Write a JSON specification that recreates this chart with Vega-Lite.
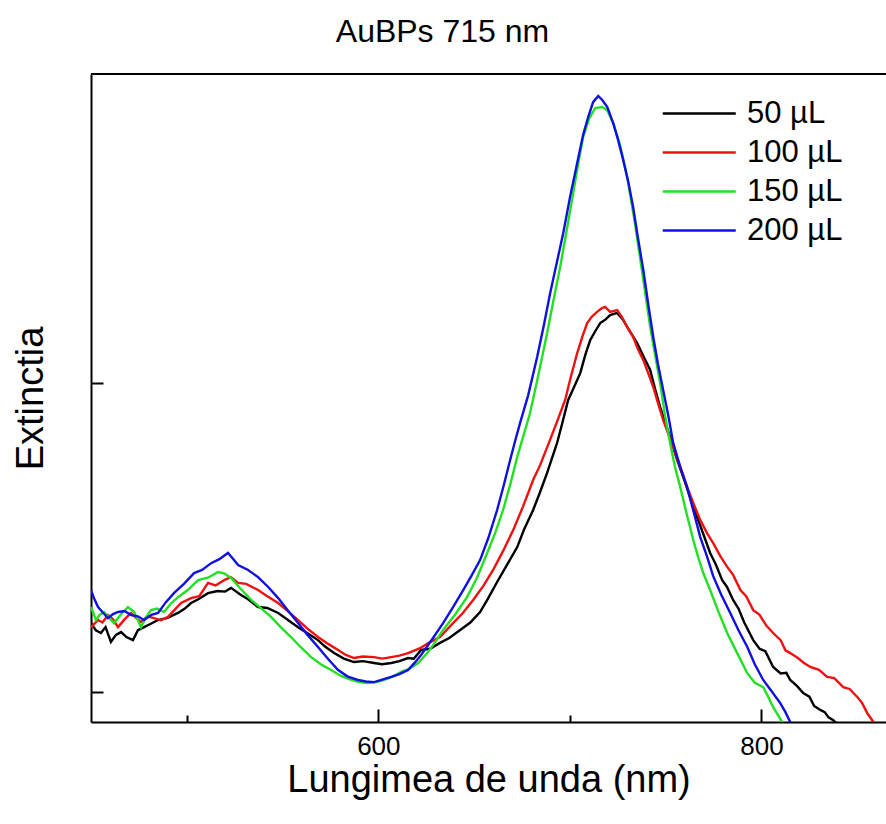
{
 "$schema": "https://vega.github.io/schema/vega-lite/v6.json",
 "width": 795,
 "height": 648,
 "autosize": {"type": "none"},
 "padding": {"left": 91, "top": 74, "right": 0, "bottom": 102},
 "background": "white",
 "title": {"text": "AuBPs 715 nm", "font": "Liberation Sans", "fontSize": 32, "fontWeight": "normal", "color": "black", "anchor": "middle", "dx": -46, "dy": 30, "offset": 29, "baseline": "alphabetic"},
 "config": {
  "view": {"stroke": null},
  "axis": {"domainColor": "black", "domainWidth": 2, "tickColor": "black", "tickWidth": 2, "labelFont": "Liberation Sans", "labelFontSize": 26, "labelColor": "black", "titleFont": "Liberation Sans", "titleFontSize": 38, "titleFontWeight": "normal", "titleColor": "black", "grid": false}
 },
 "data": {"values": [
  {"vol":"50 µL","wl":450,"ext":1.223},{"vol":"50 µL","wl":452.5,"ext":1.2},{"vol":"50 µL","wl":455.2,"ext":1.191},{"vol":"50 µL","wl":457.6,"ext":1.21},{"vol":"50 µL","wl":460.4,"ext":1.162},{"vol":"50 µL","wl":463,"ext":1.185},{"vol":"50 µL","wl":465.7,"ext":1.194},{"vol":"50 µL","wl":468.5,"ext":1.178},{"vol":"50 µL","wl":471.9,"ext":1.168},{"vol":"50 µL","wl":474.5,"ext":1.2},{"vol":"50 µL","wl":477.7,"ext":1.21},{"vol":"50 µL","wl":481,"ext":1.22},{"vol":"50 µL","wl":485,"ext":1.233},{"vol":"50 µL","wl":490,"ext":1.24},{"vol":"50 µL","wl":495.4,"ext":1.256},{"vol":"50 µL","wl":499,"ext":1.27},{"vol":"50 µL","wl":502.2,"ext":1.288},{"vol":"50 µL","wl":506,"ext":1.3},{"vol":"50 µL","wl":511.1,"ext":1.32},{"vol":"50 µL","wl":516,"ext":1.327},{"vol":"50 µL","wl":520,"ext":1.325},{"vol":"50 µL","wl":523.1,"ext":1.337},{"vol":"50 µL","wl":528.3,"ext":1.314},{"vol":"50 µL","wl":532,"ext":1.3},{"vol":"50 µL","wl":537.2,"ext":1.275},{"vol":"50 µL","wl":542,"ext":1.272},{"vol":"50 µL","wl":547.7,"ext":1.256},{"vol":"50 µL","wl":553,"ext":1.232},{"vol":"50 µL","wl":558.1,"ext":1.21},{"vol":"50 µL","wl":563,"ext":1.19},{"vol":"50 µL","wl":568.5,"ext":1.168},{"vol":"50 µL","wl":572,"ext":1.148},{"vol":"50 µL","wl":576.9,"ext":1.126},{"vol":"50 µL","wl":582,"ext":1.108},{"vol":"50 µL","wl":587.3,"ext":1.097},{"vol":"50 µL","wl":592,"ext":1.1},{"vol":"50 µL","wl":597.8,"ext":1.094},{"vol":"50 µL","wl":602,"ext":1.09},{"vol":"50 µL","wl":606.7,"ext":1.094},{"vol":"50 µL","wl":611,"ext":1.1},{"vol":"50 µL","wl":615.5,"ext":1.11},{"vol":"50 µL","wl":618.5,"ext":1.108},{"vol":"50 µL","wl":622.3,"ext":1.136},{"vol":"50 µL","wl":627,"ext":1.14},{"vol":"50 µL","wl":632.2,"ext":1.159},{"vol":"50 µL","wl":637,"ext":1.175},{"vol":"50 µL","wl":642.7,"ext":1.201},{"vol":"50 µL","wl":648,"ext":1.225},{"vol":"50 µL","wl":653.1,"ext":1.259},{"vol":"50 µL","wl":657,"ext":1.3},{"vol":"50 µL","wl":662,"ext":1.356},{"vol":"50 µL","wl":667,"ext":1.41},{"vol":"50 µL","wl":672.5,"ext":1.469},{"vol":"50 µL","wl":676,"ext":1.525},{"vol":"50 µL","wl":680.8,"ext":1.589},{"vol":"50 µL","wl":684,"ext":1.64},{"vol":"50 µL","wl":688.1,"ext":1.709},{"vol":"50 µL","wl":693.3,"ext":1.806},{"vol":"50 µL","wl":696,"ext":1.87},{"vol":"50 µL","wl":699.1,"ext":1.945},{"vol":"50 µL","wl":702,"ext":1.985},{"vol":"50 µL","wl":705.4,"ext":2.032},{"vol":"50 µL","wl":708,"ext":2.09},{"vol":"50 µL","wl":710.6,"ext":2.139},{"vol":"50 µL","wl":713,"ext":2.165},{"vol":"50 µL","wl":715.8,"ext":2.194},{"vol":"50 µL","wl":718.5,"ext":2.205},{"vol":"50 µL","wl":721,"ext":2.22},{"vol":"50 µL","wl":724.7,"ext":2.227},{"vol":"50 µL","wl":727.8,"ext":2.204},{"vol":"50 µL","wl":731,"ext":2.17},{"vol":"50 µL","wl":735.1,"ext":2.129},{"vol":"50 µL","wl":738.5,"ext":2.085},{"vol":"50 µL","wl":741.9,"ext":2.042},{"vol":"50 µL","wl":744.5,"ext":1.98},{"vol":"50 µL","wl":747.1,"ext":1.922},{"vol":"50 µL","wl":752.3,"ext":1.825},{"vol":"50 µL","wl":755.5,"ext":1.76},{"vol":"50 µL","wl":759.1,"ext":1.696},{"vol":"50 µL","wl":763,"ext":1.625},{"vol":"50 µL","wl":766.4,"ext":1.566},{"vol":"50 µL","wl":770,"ext":1.505},{"vol":"50 µL","wl":773.2,"ext":1.45},{"vol":"50 µL","wl":776,"ext":1.415},{"vol":"50 µL","wl":779.5,"ext":1.362},{"vol":"50 µL","wl":782,"ext":1.34},{"vol":"50 µL","wl":785.2,"ext":1.298},{"vol":"50 µL","wl":788,"ext":1.27},{"vol":"50 µL","wl":791,"ext":1.225},{"vol":"50 µL","wl":795.7,"ext":1.168},{"vol":"50 µL","wl":799,"ext":1.14},{"vol":"50 µL","wl":802,"ext":1.132},{"vol":"50 µL","wl":806.1,"ext":1.081},{"vol":"50 µL","wl":810,"ext":1.06},{"vol":"50 µL","wl":813,"ext":1.062},{"vol":"50 µL","wl":815,"ext":1.039},{"vol":"50 µL","wl":818.5,"ext":1.02},{"vol":"50 µL","wl":821.8,"ext":0.997},{"vol":"50 µL","wl":825,"ext":0.985},{"vol":"50 µL","wl":827.5,"ext":0.955},{"vol":"50 µL","wl":830.7,"ext":0.942},{"vol":"50 µL","wl":833,"ext":0.935},{"vol":"50 µL","wl":835,"ext":0.918},{"vol":"50 µL","wl":837.5,"ext":0.909},{"vol":"50 µL","wl":840.5,"ext":0.89},
  {"vol":"100 µL","wl":450,"ext":1.21},{"vol":"100 µL","wl":453.7,"ext":1.233},{"vol":"100 µL","wl":456,"ext":1.225},{"vol":"100 µL","wl":458.9,"ext":1.249},{"vol":"100 µL","wl":461.5,"ext":1.235},{"vol":"100 µL","wl":464.1,"ext":1.21},{"vol":"100 µL","wl":467.5,"ext":1.235},{"vol":"100 µL","wl":470.9,"ext":1.256},{"vol":"100 µL","wl":473.5,"ext":1.24},{"vol":"100 µL","wl":476.1,"ext":1.227},{"vol":"100 µL","wl":479.5,"ext":1.245},{"vol":"100 µL","wl":482.9,"ext":1.239},{"vol":"100 µL","wl":486.5,"ext":1.232},{"vol":"100 µL","wl":490.2,"ext":1.243},{"vol":"100 µL","wl":493.5,"ext":1.265},{"vol":"100 µL","wl":497,"ext":1.288},{"vol":"100 µL","wl":502.2,"ext":1.304},{"vol":"100 µL","wl":506.5,"ext":1.31},{"vol":"100 µL","wl":511.1,"ext":1.353},{"vol":"100 µL","wl":515,"ext":1.345},{"vol":"100 µL","wl":519.5,"ext":1.362},{"vol":"100 µL","wl":523,"ext":1.372},{"vol":"100 µL","wl":526.8,"ext":1.353},{"vol":"100 µL","wl":531,"ext":1.35},{"vol":"100 µL","wl":537.2,"ext":1.33},{"vol":"100 µL","wl":542,"ext":1.31},{"vol":"100 µL","wl":547.7,"ext":1.288},{"vol":"100 µL","wl":553,"ext":1.26},{"vol":"100 µL","wl":558.1,"ext":1.233},{"vol":"100 µL","wl":563,"ext":1.205},{"vol":"100 µL","wl":568.5,"ext":1.178},{"vol":"100 µL","wl":574,"ext":1.155},{"vol":"100 µL","wl":579,"ext":1.136},{"vol":"100 µL","wl":583,"ext":1.12},{"vol":"100 µL","wl":587.3,"ext":1.11},{"vol":"100 µL","wl":592,"ext":1.115},{"vol":"100 µL","wl":597.8,"ext":1.113},{"vol":"100 µL","wl":602,"ext":1.108},{"vol":"100 µL","wl":606.7,"ext":1.113},{"vol":"100 µL","wl":611,"ext":1.118},{"vol":"100 µL","wl":615.5,"ext":1.126},{"vol":"100 µL","wl":621.8,"ext":1.142},{"vol":"100 µL","wl":626.5,"ext":1.16},{"vol":"100 µL","wl":632.2,"ext":1.178},{"vol":"100 µL","wl":639,"ext":1.223},{"vol":"100 µL","wl":644,"ext":1.255},{"vol":"100 µL","wl":649.5,"ext":1.298},{"vol":"100 µL","wl":655,"ext":1.345},{"vol":"100 µL","wl":659.9,"ext":1.395},{"vol":"100 µL","wl":665,"ext":1.455},{"vol":"100 µL","wl":670.4,"ext":1.524},{"vol":"100 µL","wl":675.5,"ext":1.6},{"vol":"100 µL","wl":680.8,"ext":1.686},{"vol":"100 µL","wl":684.5,"ext":1.735},{"vol":"100 µL","wl":688.6,"ext":1.8},{"vol":"100 µL","wl":693,"ext":1.87},{"vol":"100 µL","wl":697.5,"ext":1.945},{"vol":"100 µL","wl":700.5,"ext":2.02},{"vol":"100 µL","wl":703.8,"ext":2.097},{"vol":"100 µL","wl":706.5,"ext":2.15},{"vol":"100 µL","wl":709,"ext":2.194},{"vol":"100 µL","wl":711.5,"ext":2.215},{"vol":"100 µL","wl":714.2,"ext":2.23},{"vol":"100 µL","wl":716.5,"ext":2.242},{"vol":"100 µL","wl":718.4,"ext":2.246},{"vol":"100 µL","wl":721,"ext":2.23},{"vol":"100 µL","wl":724.7,"ext":2.236},{"vol":"100 µL","wl":727,"ext":2.215},{"vol":"100 µL","wl":729.9,"ext":2.181},{"vol":"100 µL","wl":733,"ext":2.149},{"vol":"100 µL","wl":735.5,"ext":2.11},{"vol":"100 µL","wl":738.3,"ext":2.074},{"vol":"100 µL","wl":741,"ext":2.03},{"vol":"100 µL","wl":743.5,"ext":1.987},{"vol":"100 µL","wl":746,"ext":1.935},{"vol":"100 µL","wl":748.7,"ext":1.88},{"vol":"100 µL","wl":753.9,"ext":1.793},{"vol":"100 µL","wl":757.5,"ext":1.73},{"vol":"100 µL","wl":761.2,"ext":1.663},{"vol":"100 µL","wl":764.5,"ext":1.61},{"vol":"100 µL","wl":768,"ext":1.557},{"vol":"100 µL","wl":771.5,"ext":1.515},{"vol":"100 µL","wl":774.8,"ext":1.482},{"vol":"100 µL","wl":778.5,"ext":1.44},{"vol":"100 µL","wl":782.1,"ext":1.405},{"vol":"100 µL","wl":785.2,"ext":1.379},{"vol":"100 µL","wl":789,"ext":1.33},{"vol":"100 µL","wl":792,"ext":1.31},{"vol":"100 µL","wl":795.7,"ext":1.265},{"vol":"100 µL","wl":799,"ext":1.25},{"vol":"100 µL","wl":802.5,"ext":1.215},{"vol":"100 µL","wl":806.1,"ext":1.191},{"vol":"100 µL","wl":810,"ext":1.168},{"vol":"100 µL","wl":812.5,"ext":1.135},{"vol":"100 µL","wl":815,"ext":1.126},{"vol":"100 µL","wl":819,"ext":1.11},{"vol":"100 µL","wl":822,"ext":1.095},{"vol":"100 µL","wl":825.5,"ext":1.081},{"vol":"100 µL","wl":830,"ext":1.072},{"vol":"100 µL","wl":834.3,"ext":1.049},{"vol":"100 µL","wl":838,"ext":1.045},{"vol":"100 µL","wl":842.7,"ext":1.016},{"vol":"100 µL","wl":846,"ext":1.01},{"vol":"100 µL","wl":850,"ext":0.984},{"vol":"100 µL","wl":852.5,"ext":0.965},{"vol":"100 µL","wl":855.2,"ext":0.932},{"vol":"100 µL","wl":858.4,"ext":0.903},{"vol":"100 µL","wl":861,"ext":0.884},
  {"vol":"150 µL","wl":450,"ext":1.275},{"vol":"150 µL","wl":452.6,"ext":1.233},{"vol":"150 µL","wl":454.5,"ext":1.25},{"vol":"150 µL","wl":456.8,"ext":1.259},{"vol":"150 µL","wl":459.5,"ext":1.24},{"vol":"150 µL","wl":462,"ext":1.223},{"vol":"150 µL","wl":465.5,"ext":1.25},{"vol":"150 µL","wl":469.3,"ext":1.275},{"vol":"150 µL","wl":472.5,"ext":1.26},{"vol":"150 µL","wl":476.1,"ext":1.21},{"vol":"150 µL","wl":478.5,"ext":1.24},{"vol":"150 µL","wl":481.3,"ext":1.265},{"vol":"150 µL","wl":484.5,"ext":1.27},{"vol":"150 µL","wl":488.1,"ext":1.259},{"vol":"150 µL","wl":491.5,"ext":1.285},{"vol":"150 µL","wl":495.4,"ext":1.307},{"vol":"150 µL","wl":500.5,"ext":1.33},{"vol":"150 µL","wl":505.9,"ext":1.362},{"vol":"150 µL","wl":511,"ext":1.37},{"vol":"150 µL","wl":516.3,"ext":1.388},{"vol":"150 µL","wl":519.5,"ext":1.384},{"vol":"150 µL","wl":523.1,"ext":1.369},{"vol":"150 µL","wl":528,"ext":1.335},{"vol":"150 µL","wl":533.6,"ext":1.298},{"vol":"150 µL","wl":539,"ext":1.27},{"vol":"150 µL","wl":544,"ext":1.243},{"vol":"150 µL","wl":549,"ext":1.21},{"vol":"150 µL","wl":554.4,"ext":1.178},{"vol":"150 µL","wl":559.5,"ext":1.145},{"vol":"150 µL","wl":564.9,"ext":1.113},{"vol":"150 µL","wl":570,"ext":1.09},{"vol":"150 µL","wl":575.3,"ext":1.071},{"vol":"150 µL","wl":580.5,"ext":1.052},{"vol":"150 µL","wl":585.8,"ext":1.039},{"vol":"150 µL","wl":590,"ext":1.032},{"vol":"150 µL","wl":594.6,"ext":1.029},{"vol":"150 µL","wl":599,"ext":1.032},{"vol":"150 µL","wl":603,"ext":1.039},{"vol":"150 µL","wl":607.5,"ext":1.05},{"vol":"150 µL","wl":611.9,"ext":1.065},{"vol":"150 µL","wl":616,"ext":1.075},{"vol":"150 µL","wl":620.8,"ext":1.094},{"vol":"150 µL","wl":625.5,"ext":1.126},{"vol":"150 µL","wl":629.5,"ext":1.16},{"vol":"150 µL","wl":633.8,"ext":1.201},{"vol":"150 µL","wl":640,"ext":1.25},{"vol":"150 µL","wl":646.3,"ext":1.307},{"vol":"150 µL","wl":651.5,"ext":1.37},{"vol":"150 µL","wl":656.8,"ext":1.45},{"vol":"150 µL","wl":661,"ext":1.515},{"vol":"150 µL","wl":665.1,"ext":1.589},{"vol":"150 µL","wl":669,"ext":1.675},{"vol":"150 µL","wl":672.5,"ext":1.761},{"vol":"150 µL","wl":676,"ext":1.835},{"vol":"150 µL","wl":679.2,"ext":1.903},{"vol":"150 µL","wl":684,"ext":2.04},{"vol":"150 µL","wl":688.1,"ext":2.162},{"vol":"150 µL","wl":691.5,"ext":2.27},{"vol":"150 µL","wl":694.9,"ext":2.375},{"vol":"150 µL","wl":698.5,"ext":2.5},{"vol":"150 µL","wl":701.7,"ext":2.615},{"vol":"150 µL","wl":704.5,"ext":2.715},{"vol":"150 µL","wl":706.9,"ext":2.796},{"vol":"150 µL","wl":710,"ext":2.855},{"vol":"150 µL","wl":713.2,"ext":2.89},{"vol":"150 µL","wl":716.8,"ext":2.893},{"vol":"150 µL","wl":719.5,"ext":2.883},{"vol":"150 µL","wl":722.6,"ext":2.841},{"vol":"150 µL","wl":726.2,"ext":2.77},{"vol":"150 µL","wl":729.9,"ext":2.667},{"vol":"150 µL","wl":734.1,"ext":2.511},{"vol":"150 µL","wl":737.7,"ext":2.36},{"vol":"150 µL","wl":741.9,"ext":2.181},{"vol":"150 µL","wl":744.5,"ext":2.09},{"vol":"150 µL","wl":747.1,"ext":2.0},{"vol":"150 µL","wl":749.5,"ext":1.9},{"vol":"150 µL","wl":752.3,"ext":1.806},{"vol":"150 µL","wl":754.8,"ext":1.73},{"vol":"150 µL","wl":757.6,"ext":1.663},{"vol":"150 µL","wl":761,"ext":1.575},{"vol":"150 µL","wl":764.4,"ext":1.492},{"vol":"150 µL","wl":767,"ext":1.435},{"vol":"150 µL","wl":769.6,"ext":1.385},{"vol":"150 µL","wl":773.2,"ext":1.33},{"vol":"150 µL","wl":777.5,"ext":1.26},{"vol":"150 µL","wl":782.1,"ext":1.191},{"vol":"150 µL","wl":787,"ext":1.13},{"vol":"150 µL","wl":792.6,"ext":1.061},{"vol":"150 µL","wl":796.5,"ext":1.03},{"vol":"150 µL","wl":800.9,"ext":1.016},{"vol":"150 µL","wl":803.5,"ext":0.985},{"vol":"150 µL","wl":806.1,"ext":0.951},{"vol":"150 µL","wl":810.8,"ext":0.903},{"vol":"150 µL","wl":812.9,"ext":0.883},
  {"vol":"200 µL","wl":450,"ext":1.33},{"vol":"200 µL","wl":451.8,"ext":1.3},{"vol":"200 µL","wl":453.7,"ext":1.275},{"vol":"200 µL","wl":456.5,"ext":1.255},{"vol":"200 µL","wl":458.9,"ext":1.239},{"vol":"200 µL","wl":461.5,"ext":1.252},{"vol":"200 µL","wl":464.1,"ext":1.259},{"vol":"200 µL","wl":467.5,"ext":1.262},{"vol":"200 µL","wl":470.9,"ext":1.249},{"vol":"200 µL","wl":474.5,"ext":1.245},{"vol":"200 µL","wl":477.7,"ext":1.233},{"vol":"200 µL","wl":481.5,"ext":1.25},{"vol":"200 µL","wl":485,"ext":1.256},{"vol":"200 µL","wl":489,"ext":1.29},{"vol":"200 µL","wl":493.3,"ext":1.32},{"vol":"200 µL","wl":498.5,"ext":1.35},{"vol":"200 µL","wl":503.8,"ext":1.385},{"vol":"200 µL","wl":508,"ext":1.395},{"vol":"200 µL","wl":512.7,"ext":1.417},{"vol":"200 µL","wl":517,"ext":1.43},{"vol":"200 µL","wl":521.5,"ext":1.45},{"vol":"200 µL","wl":524,"ext":1.432},{"vol":"200 µL","wl":526.8,"ext":1.411},{"vol":"200 µL","wl":532,"ext":1.395},{"vol":"200 µL","wl":537.2,"ext":1.372},{"vol":"200 µL","wl":542.5,"ext":1.34},{"vol":"200 µL","wl":547.7,"ext":1.304},{"vol":"200 µL","wl":553,"ext":1.262},{"vol":"200 µL","wl":558.1,"ext":1.223},{"vol":"200 µL","wl":563,"ext":1.185},{"vol":"200 µL","wl":568.5,"ext":1.146},{"vol":"200 µL","wl":574,"ext":1.105},{"vol":"200 µL","wl":579,"ext":1.071},{"vol":"200 µL","wl":584,"ext":1.05},{"vol":"200 µL","wl":589.4,"ext":1.039},{"vol":"200 µL","wl":593.5,"ext":1.034},{"vol":"200 µL","wl":597.8,"ext":1.032},{"vol":"200 µL","wl":602,"ext":1.04},{"vol":"200 µL","wl":606.7,"ext":1.049},{"vol":"200 µL","wl":611,"ext":1.058},{"vol":"200 µL","wl":615.5,"ext":1.071},{"vol":"200 µL","wl":619,"ext":1.095},{"vol":"200 µL","wl":622.3,"ext":1.12},{"vol":"200 µL","wl":628,"ext":1.17},{"vol":"200 µL","wl":633.8,"ext":1.223},{"vol":"200 µL","wl":639,"ext":1.275},{"vol":"200 µL","wl":644.3,"ext":1.33},{"vol":"200 µL","wl":648.5,"ext":1.375},{"vol":"200 µL","wl":653.1,"ext":1.427},{"vol":"200 µL","wl":657.5,"ext":1.5},{"vol":"200 µL","wl":662,"ext":1.589},{"vol":"200 µL","wl":665.5,"ext":1.67},{"vol":"200 µL","wl":668.8,"ext":1.751},{"vol":"200 µL","wl":671.5,"ext":1.815},{"vol":"200 µL","wl":674,"ext":1.871},{"vol":"200 µL","wl":678.2,"ext":1.96},{"vol":"200 µL","wl":682.9,"ext":2.084},{"vol":"200 µL","wl":686.5,"ext":2.19},{"vol":"200 µL","wl":689.7,"ext":2.291},{"vol":"200 µL","wl":693,"ext":2.385},{"vol":"200 µL","wl":696.5,"ext":2.485},{"vol":"200 µL","wl":700,"ext":2.6},{"vol":"200 µL","wl":703.8,"ext":2.712},{"vol":"200 µL","wl":706.9,"ext":2.803},{"vol":"200 µL","wl":709.5,"ext":2.86},{"vol":"200 µL","wl":712.1,"ext":2.909},{"vol":"200 µL","wl":714.8,"ext":2.929},{"vol":"200 µL","wl":717,"ext":2.915},{"vol":"200 µL","wl":719.5,"ext":2.893},{"vol":"200 µL","wl":722.6,"ext":2.841},{"vol":"200 µL","wl":725,"ext":2.79},{"vol":"200 µL","wl":727.8,"ext":2.722},{"vol":"200 µL","wl":730.5,"ext":2.65},{"vol":"200 µL","wl":733,"ext":2.57},{"vol":"200 µL","wl":735.5,"ext":2.47},{"vol":"200 µL","wl":738.3,"ext":2.366},{"vol":"200 µL","wl":741,"ext":2.25},{"vol":"200 µL","wl":743.5,"ext":2.149},{"vol":"200 µL","wl":746,"ext":2.06},{"vol":"200 µL","wl":748.7,"ext":1.977},{"vol":"200 µL","wl":751.5,"ext":1.89},{"vol":"200 µL","wl":753.9,"ext":1.806},{"vol":"200 µL","wl":757.5,"ext":1.73},{"vol":"200 µL","wl":761.2,"ext":1.663},{"vol":"200 µL","wl":764.5,"ext":1.585},{"vol":"200 µL","wl":768,"ext":1.502},{"vol":"200 µL","wl":771.5,"ext":1.44},{"vol":"200 µL","wl":774.8,"ext":1.375},{"vol":"200 µL","wl":779,"ext":1.315},{"vol":"200 µL","wl":783.7,"ext":1.256},{"vol":"200 µL","wl":788,"ext":1.2},{"vol":"200 µL","wl":792.6,"ext":1.146},{"vol":"200 µL","wl":796.5,"ext":1.09},{"vol":"200 µL","wl":800.9,"ext":1.039},{"vol":"200 µL","wl":805,"ext":1.005},{"vol":"200 µL","wl":809.8,"ext":0.964},{"vol":"200 µL","wl":812.5,"ext":0.935},{"vol":"200 µL","wl":815,"ext":0.903},{"vol":"200 µL","wl":817.1,"ext":0.883}
 ]},
 "layer": [
  {
   "mark": {"type": "line", "strokeWidth": 2.4, "clip": true},
   "encoding": {
    "x": {"field": "wl", "type": "quantitative", "title": "Lungimea de unda (nm)",
          "scale": {"domain": [450, 865], "nice": false, "zero": false},
          "axis": {"values": [500, 600, 700, 800], "format": "d", "labelExpr": "datum.value % 200 === 0 ? datum.label : ''",
                   "tickSize": {"condition": {"test": "datum.value % 200 === 0", "value": -13}, "value": -7},
                   "labelPadding": 24, "titlePadding": 2, "labelFlush": false}},
    "y": {"field": "ext", "type": "quantitative", "title": "Extinctia",
          "scale": {"domain": [0.903, 3.0], "nice": false, "zero": false},
          "axis": {"values": [1, 2], "labels": false, "tickSize": -12, "titlePadding": 40}},
    "color": {"field": "vol", "type": "nominal",
              "scale": {"domain": ["50 µL", "100 µL", "150 µL", "200 µL"], "range": ["#000000", "#f01010", "#22e022", "#1010e0"]},
              "legend": {"orient": "none", "legendX": 607, "legendY": 20, "title": null, "symbolType": "M-3,0H1", "symbolSize": 1332, "symbolStrokeWidth": 2.4,
                         "labelFont": "Liberation Sans", "labelFontSize": 31, "labelColor": "black", "labelOffset": 10, "rowPadding": 4, "padding": 0, "labelLimit": 0}}
   }
  },
  {
   "mark": {"type": "rule", "color": "black", "strokeWidth": 2},
   "encoding": {"y": {"datum": 3.0}}
  }
 ]
}
